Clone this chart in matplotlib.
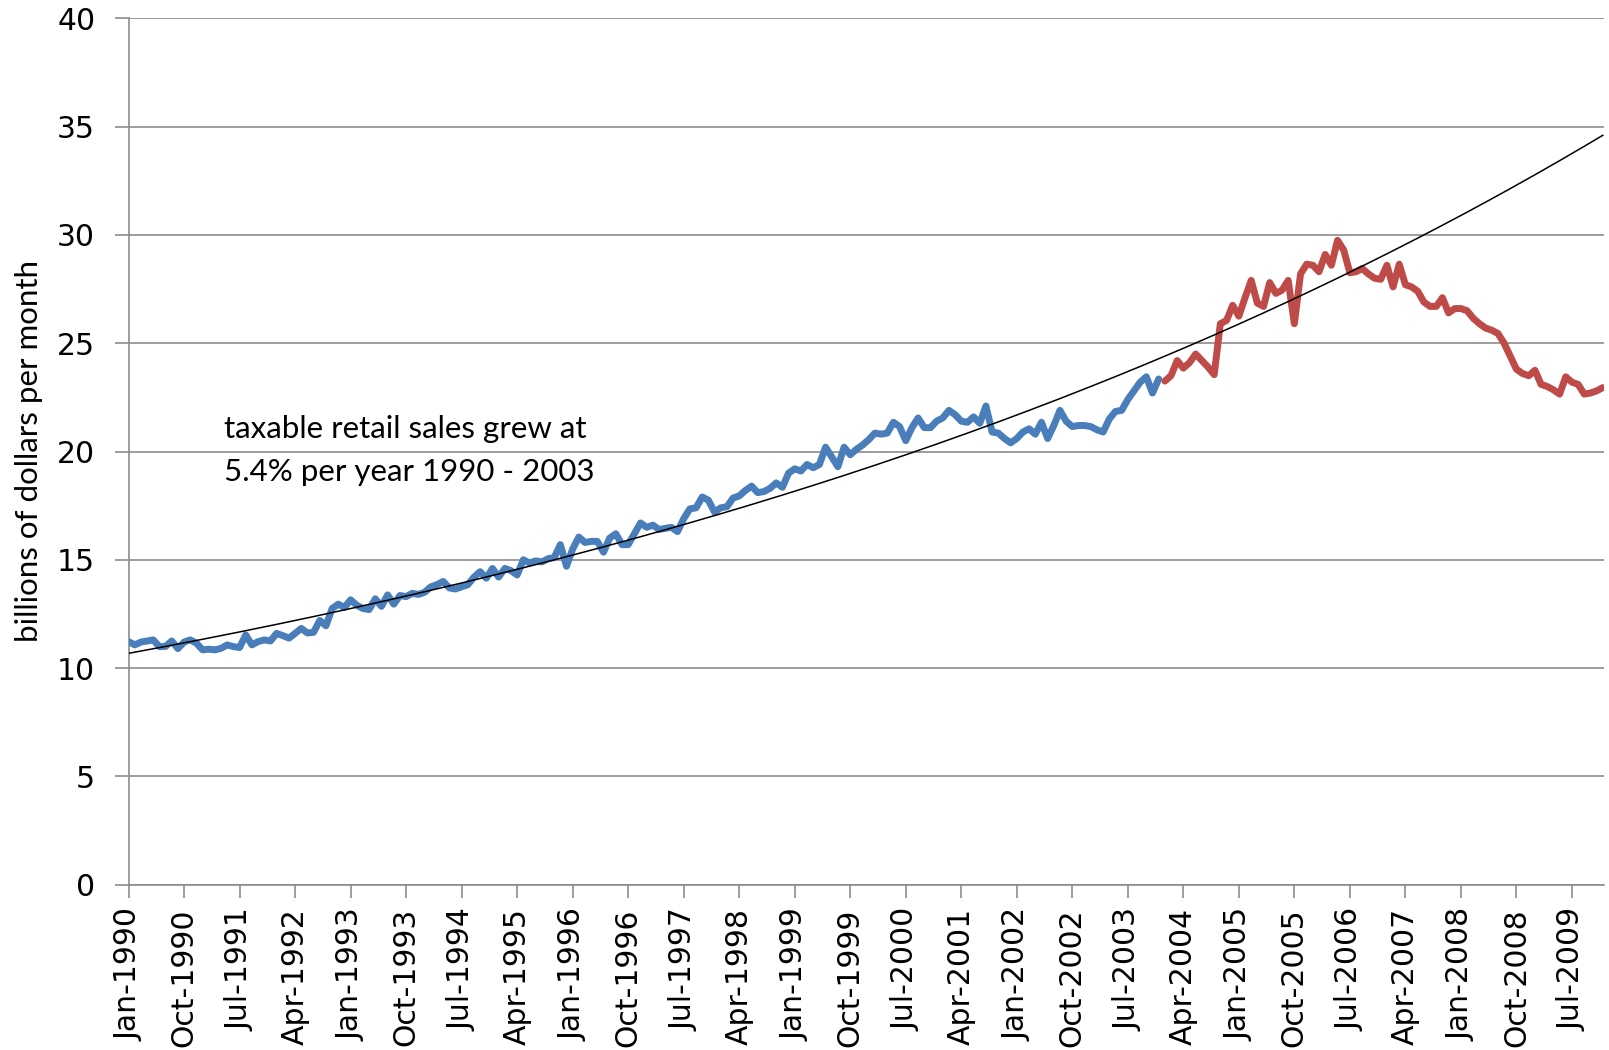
import numpy as np
import matplotlib
matplotlib.use("Agg")
from matplotlib import pyplot as plt

# monthly taxable retail sales, billions of dollars
# Jan 1990 - Dec 2003 (blue)
sales_blue = [
    11.22, 11.07, 11.2, 11.25, 11.3, 10.99, 11.0, 11.25, 10.9, 11.2, 11.3, 11.15,
    10.84, 10.87, 10.84, 10.91, 11.07, 10.99, 10.95, 11.53, 11.07, 11.22, 11.3, 11.25,
    11.6, 11.5, 11.38, 11.6, 11.83, 11.62, 11.65, 12.2, 11.95, 12.75, 12.95, 12.8,
    13.15, 12.9, 12.75, 12.7, 13.2, 12.85, 13.38, 12.95, 13.35, 13.3, 13.45, 13.4,
    13.5, 13.75, 13.85, 14.0, 13.7, 13.65, 13.75, 13.85, 14.2, 14.45, 14.15, 14.6,
    14.2, 14.6, 14.5, 14.3, 15.0, 14.85, 14.95, 14.9, 15.05, 15.1, 15.7, 14.7,
    15.5, 16.05, 15.8, 15.85, 15.85, 15.35, 16.0, 16.2, 15.7, 15.7, 16.2, 16.7,
    16.5, 16.6, 16.4, 16.45, 16.5, 16.3, 16.9, 17.35, 17.4, 17.9, 17.75, 17.2,
    17.4, 17.45, 17.85, 17.95, 18.2, 18.4, 18.1, 18.15, 18.3, 18.55, 18.35, 19.0,
    19.2, 19.1, 19.4, 19.25, 19.4, 20.2, 19.75, 19.3, 20.2, 19.85, 20.1, 20.3,
    20.55, 20.85, 20.8, 20.85, 21.35, 21.15, 20.5, 21.1, 21.55, 21.1, 21.1, 21.4,
    21.55, 21.9, 21.7, 21.4, 21.35, 21.6, 21.3, 22.1, 20.9, 20.85, 20.6, 20.4,
    20.6, 20.9, 21.05, 20.8, 21.35, 20.6, 21.2, 21.9, 21.4, 21.15, 21.2, 21.2,
    21.15, 21.0, 20.9, 21.5, 21.85, 21.9, 22.4, 22.8, 23.2, 23.45, 22.7, 23.35,
]
# Jan 2004 - Dec 2009 (red)
sales_red = [
    23.25, 23.5, 24.2, 23.85, 24.1, 24.5, 24.2, 23.9, 23.55, 25.9, 26.05, 26.75,
    26.25, 27.1, 27.9, 26.85, 26.7, 27.8, 27.3, 27.45, 27.9, 25.9, 28.2, 28.65,
    28.6, 28.3, 29.1, 28.6, 29.75, 29.3, 28.25, 28.3, 28.45, 28.2, 28.0, 27.95,
    28.6, 27.6, 28.65, 27.7, 27.6, 27.4, 26.9, 26.7, 26.7, 27.1, 26.4, 26.6,
    26.6, 26.5, 26.15, 25.9, 25.7, 25.6, 25.45, 25.0, 24.4, 23.8, 23.6, 23.5,
    23.75, 23.1, 23.0, 22.85, 22.65, 23.45, 23.2, 23.1, 22.65, 22.7, 22.8, 22.95,
]

# exponential trend line: value at Jan 1990 and at Dec 2009
trend_start = 10.68
trend_end = 34.6

tick_labels = [
    "Jan-1990", "Oct-1990", "Jul-1991", "Apr-1992", "Jan-1993", "Oct-1993",
    "Jul-1994", "Apr-1995", "Jan-1996", "Oct-1996", "Jul-1997", "Apr-1998",
    "Jan-1999", "Oct-1999", "Jul-2000", "Apr-2001", "Jan-2002", "Oct-2002",
    "Jul-2003", "Apr-2004", "Jan-2005", "Oct-2005", "Jul-2006", "Apr-2007",
    "Jan-2008", "Oct-2008", "Jul-2009",
]

n_blue = len(sales_blue)
n_total = n_blue + len(sales_red)
x_blue = np.arange(n_blue)
x_red = np.arange(n_blue, n_total)

# trend line through the whole period
x_trend = np.arange(n_total)
rate = np.log(trend_end / trend_start) / (n_total - 1)
trend = trend_start * np.exp(rate * x_trend)

grey = "#8c8c8c"

fig = plt.figure(figsize=(16.09, 10.5), dpi=100)
ax = fig.add_axes([0.0799, 0.1575, 0.917, 0.825])

ax.plot(x_blue, sales_blue, color="#4a7ebb", lw=5, solid_joinstyle="round",
        solid_capstyle="round", zorder=3)
ax.plot(x_red, sales_red, color="#be4b48", lw=5, solid_joinstyle="round",
        solid_capstyle="round", zorder=3)
ax.plot(x_trend, trend, color="black", lw=1.1, zorder=4)

ax.set_xlim(0, n_total - 0.8)
ax.set_ylim(0, 40)
ax.set_yticks(range(0, 41, 5))
ax.set_xticks(np.arange(0, n_total, 9))
ax.set_xticklabels(tick_labels, rotation=90, fontsize=21.5)
ax.tick_params(axis="y", labelsize=21.5, length=10, width=1.2, color=grey, pad=14)
ax.tick_params(axis="x", length=9, width=1.2, color=grey, pad=8)

ax.grid(axis="y", color=grey, lw=1.2)
ax.set_axisbelow(True)
for side in ["top", "right"]:
    ax.spines[side].set_visible(False)
for side in ["left", "bottom"]:
    ax.spines[side].set_color(grey)
    ax.spines[side].set_linewidth(1.2)

ax.set_ylabel("billions of dollars per month", fontsize=22.5, family="Lato", labelpad=10)

ax.text(15.5, 21.05, "taxable retail sales grew at", fontsize=22.5, family="Lato",
        va="center", ha="left")
ax.text(15.5, 19.05, "5.4% per year 1990 - 2003", fontsize=22.5, family="Lato",
        va="center", ha="left")

fig.savefig("out.png", dpi=100)
